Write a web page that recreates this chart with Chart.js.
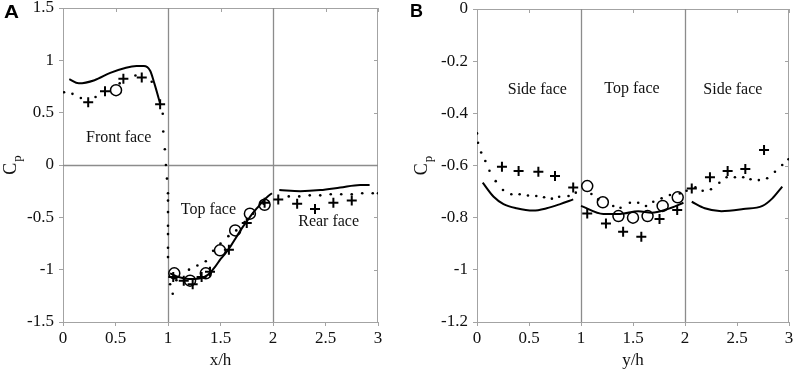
<!DOCTYPE html>
<html>
<head>
<meta charset="utf-8">
<script src="https://cdn.jsdelivr.net/npm/chart.js@4.4.1/dist/chart.umd.min.js"></script>
<style>
html, body { margin: 0; padding: 0; background: #fff; }
.panel { position: absolute; top: 0; width: 398px; height: 371px; }
#wrapA { left: 0; }
#wrapB { left: 398px; }
</style>
</head>
<body>
<div class="panel" id="wrapA"><canvas id="chartA"></canvas></div>
<div class="panel" id="wrapB"><canvas id="chartB"></canvas></div>
<script>
// ---- panel A : Cp vs x/h ----
const aTicksX = [0, 0.5, 1, 1.5, 2, 2.5, 3];
const aTicksY = [-1.5, -1, -0.5, 0, 0.5, 1, 1.5];

const aFrontLineX = [0.06, 0.15, 0.3, 0.45, 0.6, 0.7, 0.77, 0.83, 0.87, 0.93];
const aFrontLineY = [0.82, 0.78, 0.81, 0.88, 0.93, 0.945, 0.945, 0.90, 0.78, 0.57];
const aTopLineX = [1.02, 1.1, 1.2, 1.3, 1.38, 1.45, 1.5, 1.55, 1.6, 1.65, 1.7, 1.75, 1.8, 1.85, 1.9, 1.95, 1.99];
const aTopLineY = [-1.035, -1.07, -1.09, -1.085, -1.05, -0.97, -0.9, -0.84, -0.77, -0.69, -0.61, -0.54, -0.47, -0.41, -0.35, -0.3, -0.27];
const aRearLineX = [2.06, 2.26, 2.45, 2.64, 2.83, 2.92];
const aRearLineY = [-0.24, -0.25, -0.24, -0.215, -0.19, -0.19];

const aDotX = [0.01, 0.09, 0.17, 0.31, 0.54, 0.69, 0.845, 0.95, 0.955, 0.97, 0.98, 0.99,
  1.0, 1.0, 1.0, 1.0, 1.0, 1.0, 1.0,
  1.02, 1.045, 1.08, 1.2, 1.28, 1.36, 1.43, 1.5, 1.575, 1.65, 1.73, 1.81, 1.91,
  2.15, 2.25, 2.35, 2.45, 2.55, 2.65, 2.75, 2.85, 2.95, 3.0];
const aDotY = [0.695, 0.68, 0.64, 0.65, 0.78, 0.855, 0.795, 0.49, 0.32, 0.15, 0.0, -0.13,
  -0.27, -0.34, -0.45, -0.58, -0.66, -0.79, -0.88,
  -1.14, -1.23, -1.1, -1.0, -0.96, -0.92, -0.82, -0.75, -0.68, -0.625, -0.545, -0.465, -0.37,
  -0.3, -0.3, -0.29, -0.29, -0.28, -0.28, -0.28, -0.27, -0.27, -0.27];

const aPlusX = [0.24, 0.40, 0.575, 0.75, 0.925, 1.05, 1.15, 1.235, 1.32, 1.40, 1.58, 1.75, 1.92, 2.05, 2.23, 2.40, 2.575, 2.75];
const aPlusY = [0.60, 0.705, 0.825, 0.835, 0.58, -1.07, -1.105, -1.14, -1.07, -1.02, -0.81, -0.555, -0.36, -0.33, -0.37, -0.42, -0.36, -0.34];

const aCircX = [0.505, 1.06, 1.21, 1.36, 1.495, 1.64, 1.78, 1.92];
const aCircY = [0.715, -1.035, -1.105, -1.035, -0.815, -0.625, -0.465, -0.38];

const aNotes = [
  { text: 'Front face', x: 0.53, y: 0.26 },
  { text: 'Top face', x: 1.385, y: -0.43 },
  { text: 'Rear face', x: 2.53, y: -0.545 }
];

// ---- panel B : Cp vs y/h ----
const bTicksX = [0, 0.5, 1, 1.5, 2, 2.5, 3];
const bTicksY = [-1.2, -1, -0.8, -0.6, -0.4, -0.2, 0];

const bLeftLineX = [0.055, 0.16, 0.255, 0.38, 0.54, 0.67, 0.80, 0.925];
const bLeftLineY = [-0.666, -0.72, -0.748, -0.764, -0.773, -0.764, -0.748, -0.73];
const bMidLineX = [1.0, 1.215, 1.375, 1.55, 1.68, 1.825, 1.985];
const bMidLineY = [-0.755, -0.786, -0.786, -0.775, -0.781, -0.768, -0.743];
const bRightLineX = [2.065, 2.19, 2.35, 2.56, 2.745, 2.84, 2.935];
const bRightLineY = [-0.739, -0.764, -0.775, -0.767, -0.755, -0.726, -0.681];

const bDotX = [0, 0.01, 0.04, 0.08, 0.12, 0.18, 0.25, 0.33, 0.41, 0.49, 0.57, 0.645, 0.72, 0.79, 0.88, 0.95,
  1.10, 1.165, 1.31, 1.38, 1.47, 1.55, 1.625, 1.695, 1.775, 1.855, 1.95, 2.015,
  2.1, 2.17, 2.25, 2.33, 2.40, 2.48, 2.56, 2.63, 2.71, 2.79, 2.865, 2.935, 2.995];
const bDotY = [-0.477, -0.513, -0.55, -0.583, -0.62, -0.66, -0.694, -0.71, -0.71, -0.715, -0.717, -0.722, -0.727, -0.72, -0.717, -0.704,
  -0.709, -0.73, -0.755, -0.762, -0.743, -0.743, -0.755, -0.739, -0.726, -0.713, -0.707, -0.697,
  -0.684, -0.697, -0.691, -0.666, -0.645, -0.645, -0.645, -0.653, -0.656, -0.649, -0.624, -0.598, -0.576];

const bPlusX = [0.24, 0.40, 0.59, 0.75, 0.925, 1.06, 1.24, 1.405, 1.58, 1.755, 1.925, 2.065, 2.24, 2.41, 2.58, 2.76];
const bPlusY = [-0.605, -0.621, -0.624, -0.64, -0.684, -0.784, -0.822, -0.854, -0.873, -0.805, -0.771, -0.688, -0.645, -0.621, -0.613, -0.541];

const bCircX = [1.06, 1.21, 1.36, 1.50, 1.64, 1.785, 1.93];
const bCircY = [-0.679, -0.741, -0.794, -0.80, -0.794, -0.755, -0.722];

const bNotes = [
  { text: 'Side face', x: 0.58, y: -0.31 },
  { text: 'Top face', x: 1.49, y: -0.305 },
  { text: 'Side face', x: 2.46, y: -0.31 }
];

const SERIF = '"Liberation Serif", "Times New Roman", serif';
const AXIS = '#a3a3a3';
const REF = '#8c8c8c';
const INK = '#111';

function pts(xs, ys) {
  return xs.map((x, i) => ({ x: x, y: ys[i] }));
}

function lineSet(xs, ys) {
  return { data: pts(xs, ys), showLine: true, borderColor: '#000', borderWidth: 2,
    pointRadius: 0, cubicInterpolationMode: 'monotone', fill: false };
}

function dotSet(xs, ys) {
  return { data: pts(xs, ys), showLine: false, pointStyle: 'circle', pointRadius: 1.3,
    backgroundColor: '#000', borderWidth: 0 };
}

function plusSet(xs, ys) {
  return { data: pts(xs, ys), showLine: false, pointStyle: 'cross', pointRadius: 5,
    borderColor: '#000', borderWidth: 2 };
}

function circSet(xs, ys) {
  return { data: pts(xs, ys), showLine: false, pointStyle: 'circle', pointRadius: 5.5,
    borderColor: '#000', borderWidth: 1.5, backgroundColor: 'rgba(0,0,0,0)' };
}

// frame, reference lines, notes, panel letter and the Cp label
const decor = {
  id: 'decor',
  beforeDatasetsDraw(chart, args, o) {
    const { ctx, chartArea: a, scales: { x, y } } = chart;
    ctx.save();
    ctx.lineWidth = 1;
    ctx.strokeStyle = AXIS;
    ctx.beginPath();
    ctx.moveTo(a.left, a.top + 0.5);
    ctx.lineTo(a.right - 0.5, a.top + 0.5);
    ctx.lineTo(a.right - 0.5, a.bottom);
    x.ticks.forEach(t => {
      const px = Math.round(x.getPixelForValue(t.value)) + 0.5;
      ctx.moveTo(px, a.top);
      ctx.lineTo(px, a.top + 4);
    });
    y.ticks.forEach(t => {
      const py = Math.round(y.getPixelForValue(t.value)) + 0.5;
      ctx.moveTo(a.right, py);
      ctx.lineTo(a.right - 4, py);
    });
    ctx.stroke();

    ctx.strokeStyle = REF;
    ctx.lineWidth = 1.3;
    ctx.beginPath();
    o.vLines.forEach(v => {
      const px = Math.round(x.getPixelForValue(v)) + 0.5;
      ctx.moveTo(px, a.top);
      ctx.lineTo(px, a.bottom);
    });
    o.hLines.forEach(v => {
      const py = Math.round(y.getPixelForValue(v)) + 0.5;
      ctx.moveTo(a.left, py);
      ctx.lineTo(a.right, py);
    });
    ctx.stroke();

    ctx.fillStyle = INK;
    ctx.font = '16px ' + SERIF;
    ctx.textAlign = 'center';
    ctx.textBaseline = 'middle';
    o.notes.forEach(n => ctx.fillText(n.text, x.getPixelForValue(n.x), y.getPixelForValue(n.y)));
    ctx.restore();
  },
  afterDraw(chart, args, o) {
    const { ctx, chartArea: a } = chart;
    ctx.save();
    ctx.fillStyle = '#000';
    ctx.font = 'bold 18px "Liberation Sans", Arial, sans-serif';
    ctx.textAlign = 'left';
    ctx.textBaseline = 'alphabetic';
    ctx.save();
    ctx.translate(o.letterX, o.letterY);
    ctx.scale(o.letterStretch, 1);
    ctx.fillText(o.letter, 0, 0);
    ctx.restore();

    // rotated C with subscript p
    ctx.fillStyle = INK;
    ctx.translate(o.cpBase, (a.top + a.bottom) / 2);
    ctx.rotate(-Math.PI / 2);
    ctx.font = '18px ' + SERIF;
    const wC = ctx.measureText('C').width;
    ctx.font = '13px ' + SERIF;
    const wp = ctx.measureText('p').width;
    const start = -(wC + wp + 1) / 2;
    ctx.font = '18px ' + SERIF;
    ctx.fillText('C', start, 0);
    ctx.font = '13px ' + SERIF;
    ctx.fillText('p', start + wC + 1, 5);
    ctx.restore();
  }
};

function scales(xTicks, yTicks, yWidth, xTitle) {
  const tickFont = { family: SERIF, size: 17 };
  return {
    x: {
      type: 'linear',
      min: xTicks[0],
      max: xTicks[xTicks.length - 1],
      afterBuildTicks: s => { s.ticks = xTicks.map(v => ({ value: v })); },
      afterFit: s => { s.height = 49; s.paddingLeft = 0; s.paddingRight = 0; },
      ticks: { font: tickFont, color: INK, padding: 2, maxRotation: 0, autoSkip: false,
        callback: v => String(v) },
      grid: { drawOnChartArea: false, tickLength: 4, color: AXIS },
      border: { color: AXIS },
      title: { display: true, text: xTitle, font: { family: SERIF, size: 17 }, color: INK,
        padding: { top: 0, bottom: 0 } }
    },
    y: {
      type: 'linear',
      min: yTicks[0],
      max: yTicks[yTicks.length - 1],
      afterBuildTicks: s => { s.ticks = yTicks.map(v => ({ value: v })); },
      afterFit: s => { s.width = yWidth; s.paddingTop = 0; s.paddingBottom = 0; },
      ticks: { font: tickFont, color: INK, padding: 5, autoSkip: false,
        callback: v => String(v) },
      grid: { drawOnChartArea: false, tickLength: 4, color: AXIS },
      border: { color: AXIS }
    }
  };
}

function makeChart(id, datasets, sc, pad, decorOpts) {
  return new Chart(document.getElementById(id).getContext('2d'), {
    type: 'scatter',
    data: { datasets: datasets },
    options: {
      responsive: true,
      maintainAspectRatio: false,
      animation: false,
      events: [],
      layout: { padding: pad },
      scales: sc,
      plugins: { legend: { display: false }, tooltip: { enabled: false }, decor: decorOpts }
    },
    plugins: [decor]
  });
}

makeChart('chartA', [
  plusSet(aPlusX, aPlusY),
  circSet(aCircX, aCircY),
  dotSet(aDotX, aDotY),
  lineSet(aFrontLineX, aFrontLineY),
  lineSet(aTopLineX, aTopLineY),
  lineSet(aRearLineX, aRearLineY)
], scales(aTicksX, aTicksY, 63, 'x/h'),
  { left: 0, top: 8, right: 20, bottom: 0 },
  { vLines: [1, 2], hLines: [0], notes: aNotes, letter: 'A', letterX: 4, letterY: 18, letterStretch: 1.15, cpBase: 16 });

makeChart('chartB', [
  plusSet(bPlusX, bPlusY),
  circSet(bCircX, bCircY),
  dotSet(bDotX, bDotY),
  lineSet(bLeftLineX, bLeftLineY),
  lineSet(bMidLineX, bMidLineY),
  lineSet(bRightLineX, bRightLineY)
], scales(bTicksX, bTicksY, 79, 'y/h'),
  { left: 0, top: 9, right: 7, bottom: 0 },
  { vLines: [1, 2], hLines: [], notes: bNotes, letter: 'B', letterX: 12, letterY: 17, letterStretch: 1, cpBase: 29 });
</script>
</body>
</html>
